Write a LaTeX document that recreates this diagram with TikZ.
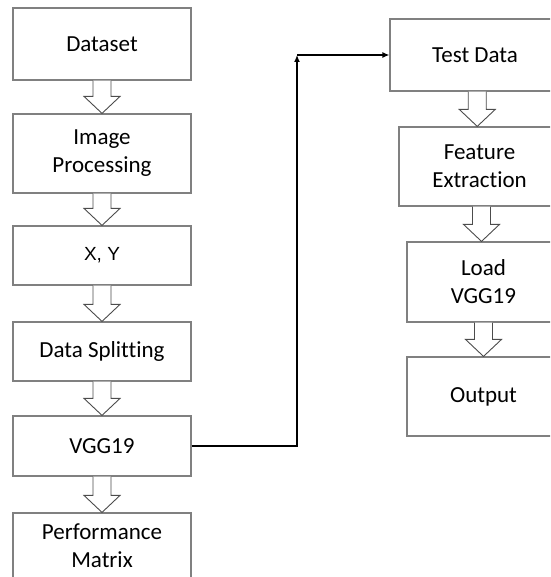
\documentclass[tikz,border=0pt]{standalone}
\usepackage{fontspec}
\setmainfont{Carlito}[Ligatures={NoCommon}]
\newfontfamily\arialfont{Liberation Sans}
\usetikzlibrary{calc,arrows.meta}

\newcommand{\hollowdown}[2]{%
    \draw[hollow] let \p1=(#1.south), \p2=(#2.north) in
        ({(\x1+\x2)/2-9pt},\y1) -- ({(\x1+\x2)/2-9pt},{\y2+17pt})
        -- ({(\x1+\x2)/2-18pt},{\y2+17pt}) -- ({(\x1+\x2)/2},\y2)
        -- ({(\x1+\x2)/2+18pt},{\y2+17pt}) -- ({(\x1+\x2)/2+9pt},{\y2+17pt})
        -- ({(\x1+\x2)/2+9pt},\y1);%
}

\begin{document}
\begin{tikzpicture}[
        x=1pt, y=-1pt,
        box/.style={draw=black!50, line width=1.2pt, fill=white, inner sep=0pt,
            align=center, font=\fontsize{23}{28}\selectfont},
        hollow/.style={draw=black!70, line width=0.9pt, fill=white, line join=miter},
        conn/.style={black, line width=1.3pt, -{Latex[length=7pt,width=6pt]}}
    ]
    \useasboundingbox (0,0) rectangle (550,577);
    \clip (0,0) rectangle (550,577);

    % Training
    \node[box, minimum width=178pt, minimum height=72pt] (dataset) at (102,44) {Dataset};
    \node[box, minimum width=178pt, minimum height=79pt] (improc) at (102,153.5) {Image\\Processing};
    \node[box, minimum width=178pt, minimum height=59pt, font=\arialfont\fontsize{19}{22}\selectfont] (xy) at (102,255.5) {X, Y};
    \node[box, minimum width=178pt, minimum height=59pt] (split) at (102,351.5) {Data Splitting};
    \node[box, minimum width=178pt, minimum height=60pt] (vgg) at (102,446) {VGG19};
    \node[box, minimum width=178pt, minimum height=66pt] (perf) at (102,546) {Performance\\Matrix};

    \hollowdown{dataset}{improc}
    \hollowdown{improc}{xy}
    \hollowdown{xy}{split}
    \hollowdown{split}{vgg}
    \hollowdown{vgg}{perf}

    % Testing
    \node[box, minimum width=170pt, minimum height=72pt] (test) at (475,55) {Test Data};
    \node[box, minimum width=161pt, minimum height=79pt] (feat) at (479.5,166.5) {Feature\\Extraction};
    \node[box, minimum width=153pt, minimum height=80pt] (load) at (483.5,282) {Load\\VGG19};
    \node[box, minimum width=153pt, minimum height=79pt] (out) at (483.5,396.5) {Output};

    \hollowdown{test}{feat}
    \hollowdown{feat}{load}
    \hollowdown{load}{out}

    % Verbindung
    \coordinate (bend) at (297,55);
    \draw[conn] (vgg.east) -| (bend);
    \draw[conn] (bend) -- (test.west);
\end{tikzpicture}
\end{document}
